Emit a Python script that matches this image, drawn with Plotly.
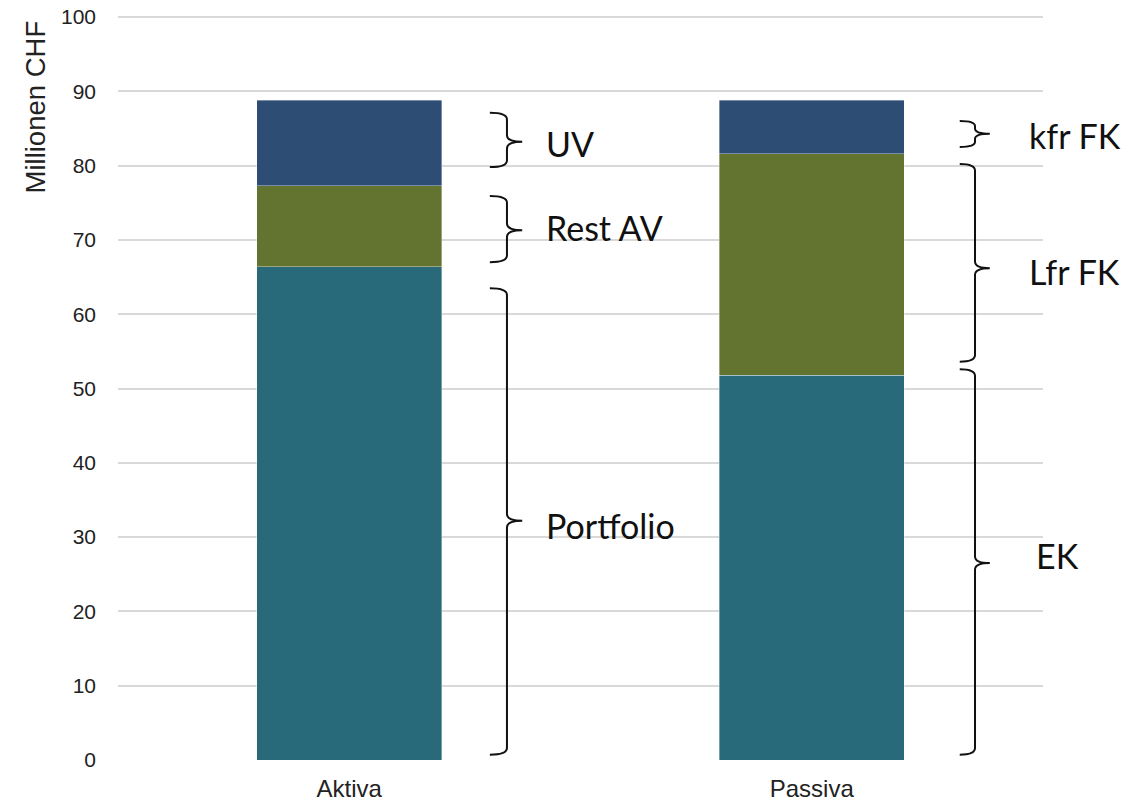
import plotly.graph_objects as go

# ---- data ----
categories = ["Aktiva", "Passiva"]
cat_pos = [0, 1]
bottom_vals = [66.4, 51.8]   # Portfolio / EK
middle_vals = [10.9, 29.8]   # Rest AV / Lfr FK
top_vals = [11.5, 7.2]       # UV / kfr FK

y_ticks = [0, 10, 20, 30, 40, 50, 60, 70, 80, 90, 100]

# bracket annotations: category index, low, high, tip (y values), label
br_cat = [0, 0, 0, 1, 1, 1]
br_low = [79.8, 67.0, 0.7, 82.5, 53.6, 0.7]
br_high = [87.1, 75.9, 63.5, 86.0, 80.2, 52.6]
br_tip = [83.2, 71.3, 32.2, 84.3, 66.2, 26.5]
br_label = ["UV", "Rest AV", "Portfolio", "kfr FK", "Lfr FK", "EK"]
br_label_y = [83.0, 71.7, 31.6, 84.0, 65.7, 27.5]
br_label_dx = [0.421, 0.421, 0.421, 0.466, 0.466, 0.481]

C_BOTTOM = "#286A7A"
C_MIDDLE = "#627430"
C_TOP = "#2E4D75"

fig = go.Figure()
edge = dict(width=0.8, color="rgba(255,255,255,0.45)")
fig.add_trace(go.Bar(x=cat_pos, y=bottom_vals, marker=dict(color=C_BOTTOM, line=edge), width=0.4))
fig.add_trace(go.Bar(x=cat_pos, y=middle_vals, marker=dict(color=C_MIDDLE, line=edge), width=0.4))
fig.add_trace(go.Bar(x=cat_pos, y=top_vals, marker=dict(color=C_TOP, line=edge), width=0.4))

# brackets
off_start = [0.304, 0.32]
off_vert = [0.341, 0.353]
off_tip = [0.374, 0.385]
shapes = []
annotations = []
for c, lo, hi, tp, lab, ly, ldx in zip(br_cat, br_low, br_high, br_tip, br_label, br_label_y, br_label_dx):
    x0 = cat_pos[c] + off_start[c]
    xv = cat_pos[c] + off_vert[c]
    xt = cat_pos[c] + off_tip[c]
    r = min(0.9, (hi - lo) / 5.0)
    path = (
        f"M {x0},{hi} Q {xv},{hi} {xv},{hi - r} "
        f"L {xv},{tp + r} Q {xv},{tp} {xt},{tp} "
        f"M {xt},{tp} Q {xv},{tp} {xv},{tp - r} "
        f"L {xv},{lo + r} Q {xv},{lo} {x0},{lo}"
    )
    shapes.append(dict(type="path", path=path, xref="x", yref="y",
                       line=dict(color="#111111", width=2)))
    annotations.append(dict(x=cat_pos[c] + ldx, y=ly, xref="x", yref="y", text=lab,
                            showarrow=False, xanchor="left", yanchor="middle",
                            font=dict(family="Lato, sans-serif", size=34, color="#111111")))

annotations.append(dict(text="Millionen CHF", textangle=-90, xref="paper", yref="paper",
                        x=(35 - 118) / 925, y=(760 - 19) / 745, xanchor="center", yanchor="top",
                        showarrow=False,
                        font=dict(family="Liberation Sans, Arial, sans-serif", size=27.5, color="#222222")))

fig.update_layout(
    barmode="stack",
    width=1144, height=802,
    margin=dict(l=118, r=101, t=15, b=42, autoexpand=False),
    plot_bgcolor="white", paper_bgcolor="white",
    showlegend=False,
    shapes=shapes,
    annotations=annotations,
    font=dict(family="Liberation Sans, Arial, sans-serif", size=22, color="#222222"),
)
fig.update_xaxes(range=[-0.5, 1.5], tickvals=cat_pos, ticktext=categories,
                 showgrid=False, zeroline=False, showline=False, ticks="",
                 automargin=False, ticklabelstandoff=12,
                 tickfont=dict(size=24))
fig.update_yaxes(range=[0, 100.27], tickvals=y_ticks, showgrid=True, gridcolor="#D9D9D9",
                 gridwidth=1.5, zeroline=False, showline=False, ticks="",
                 automargin=False, ticklabelstandoff=21, tickfont=dict(size=21))

fig.write_html("out.html")
